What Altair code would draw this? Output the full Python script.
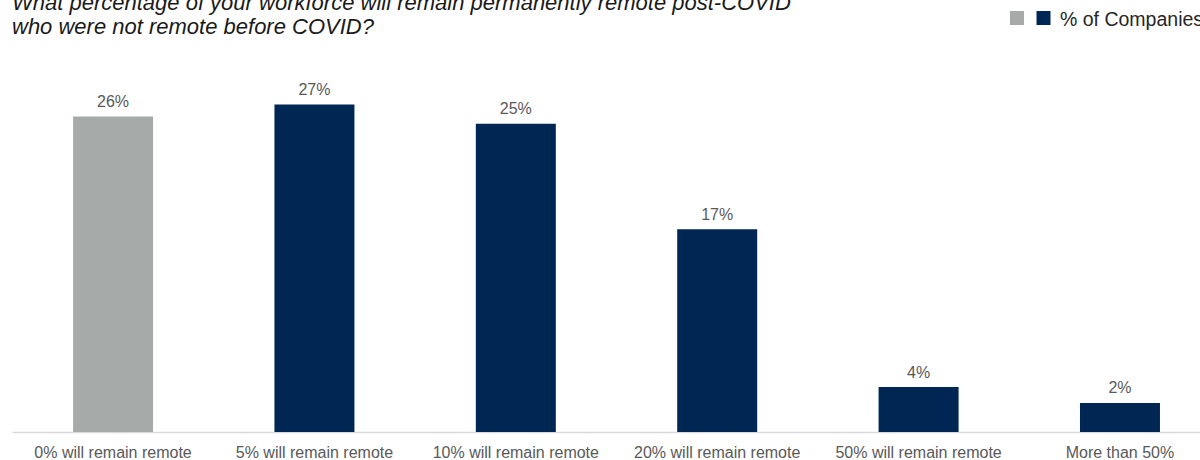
import altair as alt
import pandas as pd

categories = [
    "0% will remain remote",
    "5% will remain remote",
    "10% will remain remote",
    "20% will remain remote",
    "50% will remain remote",
    "More than 50%",
]
# bar heights (labels show rounded values)
values = [26.0, 27.0, 25.4, 16.7, 3.7, 2.4]
bar_colors = ["#a6aba9", "#002754", "#002754", "#002754", "#002754", "#002754"]
title_lines = [
    "What percentage of your workforce will remain permanently remote post-COVID",
    "who were not remote before COVID?",
]
legend_label = "% of Companies"

df = pd.DataFrame({"category": categories, "value": values})

FONT = "Liberation Sans"

x_enc = alt.X(
    "category:N",
    sort=categories,
    scale=alt.Scale(paddingInner=0.6028, paddingOuter=0.251, align=0.604),
    axis=alt.Axis(
        title=None,
        ticks=False,
        labelAngle=0,
        labelFontSize=16,
        labelColor="#595959",
        labelFont=FONT,
        labelPadding=12,
        domainColor="#d9d9d9",
        domainWidth=1.5,
        grid=False,
    ),
)
y_enc = alt.Y("value:Q", scale=alt.Scale(domain=[0, 30], nice=False, zero=True), axis=None)

base = alt.Chart(df)

bars = base.mark_bar(size=80).encode(
    x=x_enc,
    y=y_enc,
    color=alt.Color(
        "category:N",
        scale=alt.Scale(domain=categories, range=bar_colors),
        legend=None,
    ),
)

labels = base.transform_calculate(label="format(datum.value, '.0f') + '%'").mark_text(
    baseline="alphabetic", dy=-9.5, fontSize=16, color="#595959", font=FONT
).encode(x=x_enc, y=y_enc, text="label:N")

leg_data = pd.DataFrame({"k": [legend_label]})
leg_gray = alt.Chart(leg_data).mark_square(size=196, color="#a6aba9", opacity=1).encode(
    x=alt.value(1005), y=alt.value(-50)
)
leg_navy = alt.Chart(leg_data).mark_square(size=196, color="#002754", opacity=1).encode(
    x=alt.value(1031.5), y=alt.value(-50)
)
leg_text = alt.Chart(leg_data).mark_text(
    align="left", baseline="alphabetic", fontSize=19.5, color="#262626", font=FONT
).encode(x=alt.value(1048), y=alt.value(-42), text="k:N")

chart = (
    alt.layer(bars, labels, leg_gray, leg_navy, leg_text)
    .properties(
        width=1188,
        height=364,
        autosize=alt.AutoSizeParams(type="none"),
        padding={"left": 12, "top": 68, "right": 0, "bottom": 28},
        background="white",
        title=alt.TitleParams(
            text=title_lines,
            anchor="start",
            fontSize=22,
            font=FONT,
            fontStyle="italic",
            fontWeight="normal",
            color="#1a1a1a",
            lineHeight=24,
            offset=-29,
        ),
    )
    .configure_view(stroke=None, strokeWidth=0)
)

chart.save("out.html", embed_options={"renderer": "svg", "actions": False})
